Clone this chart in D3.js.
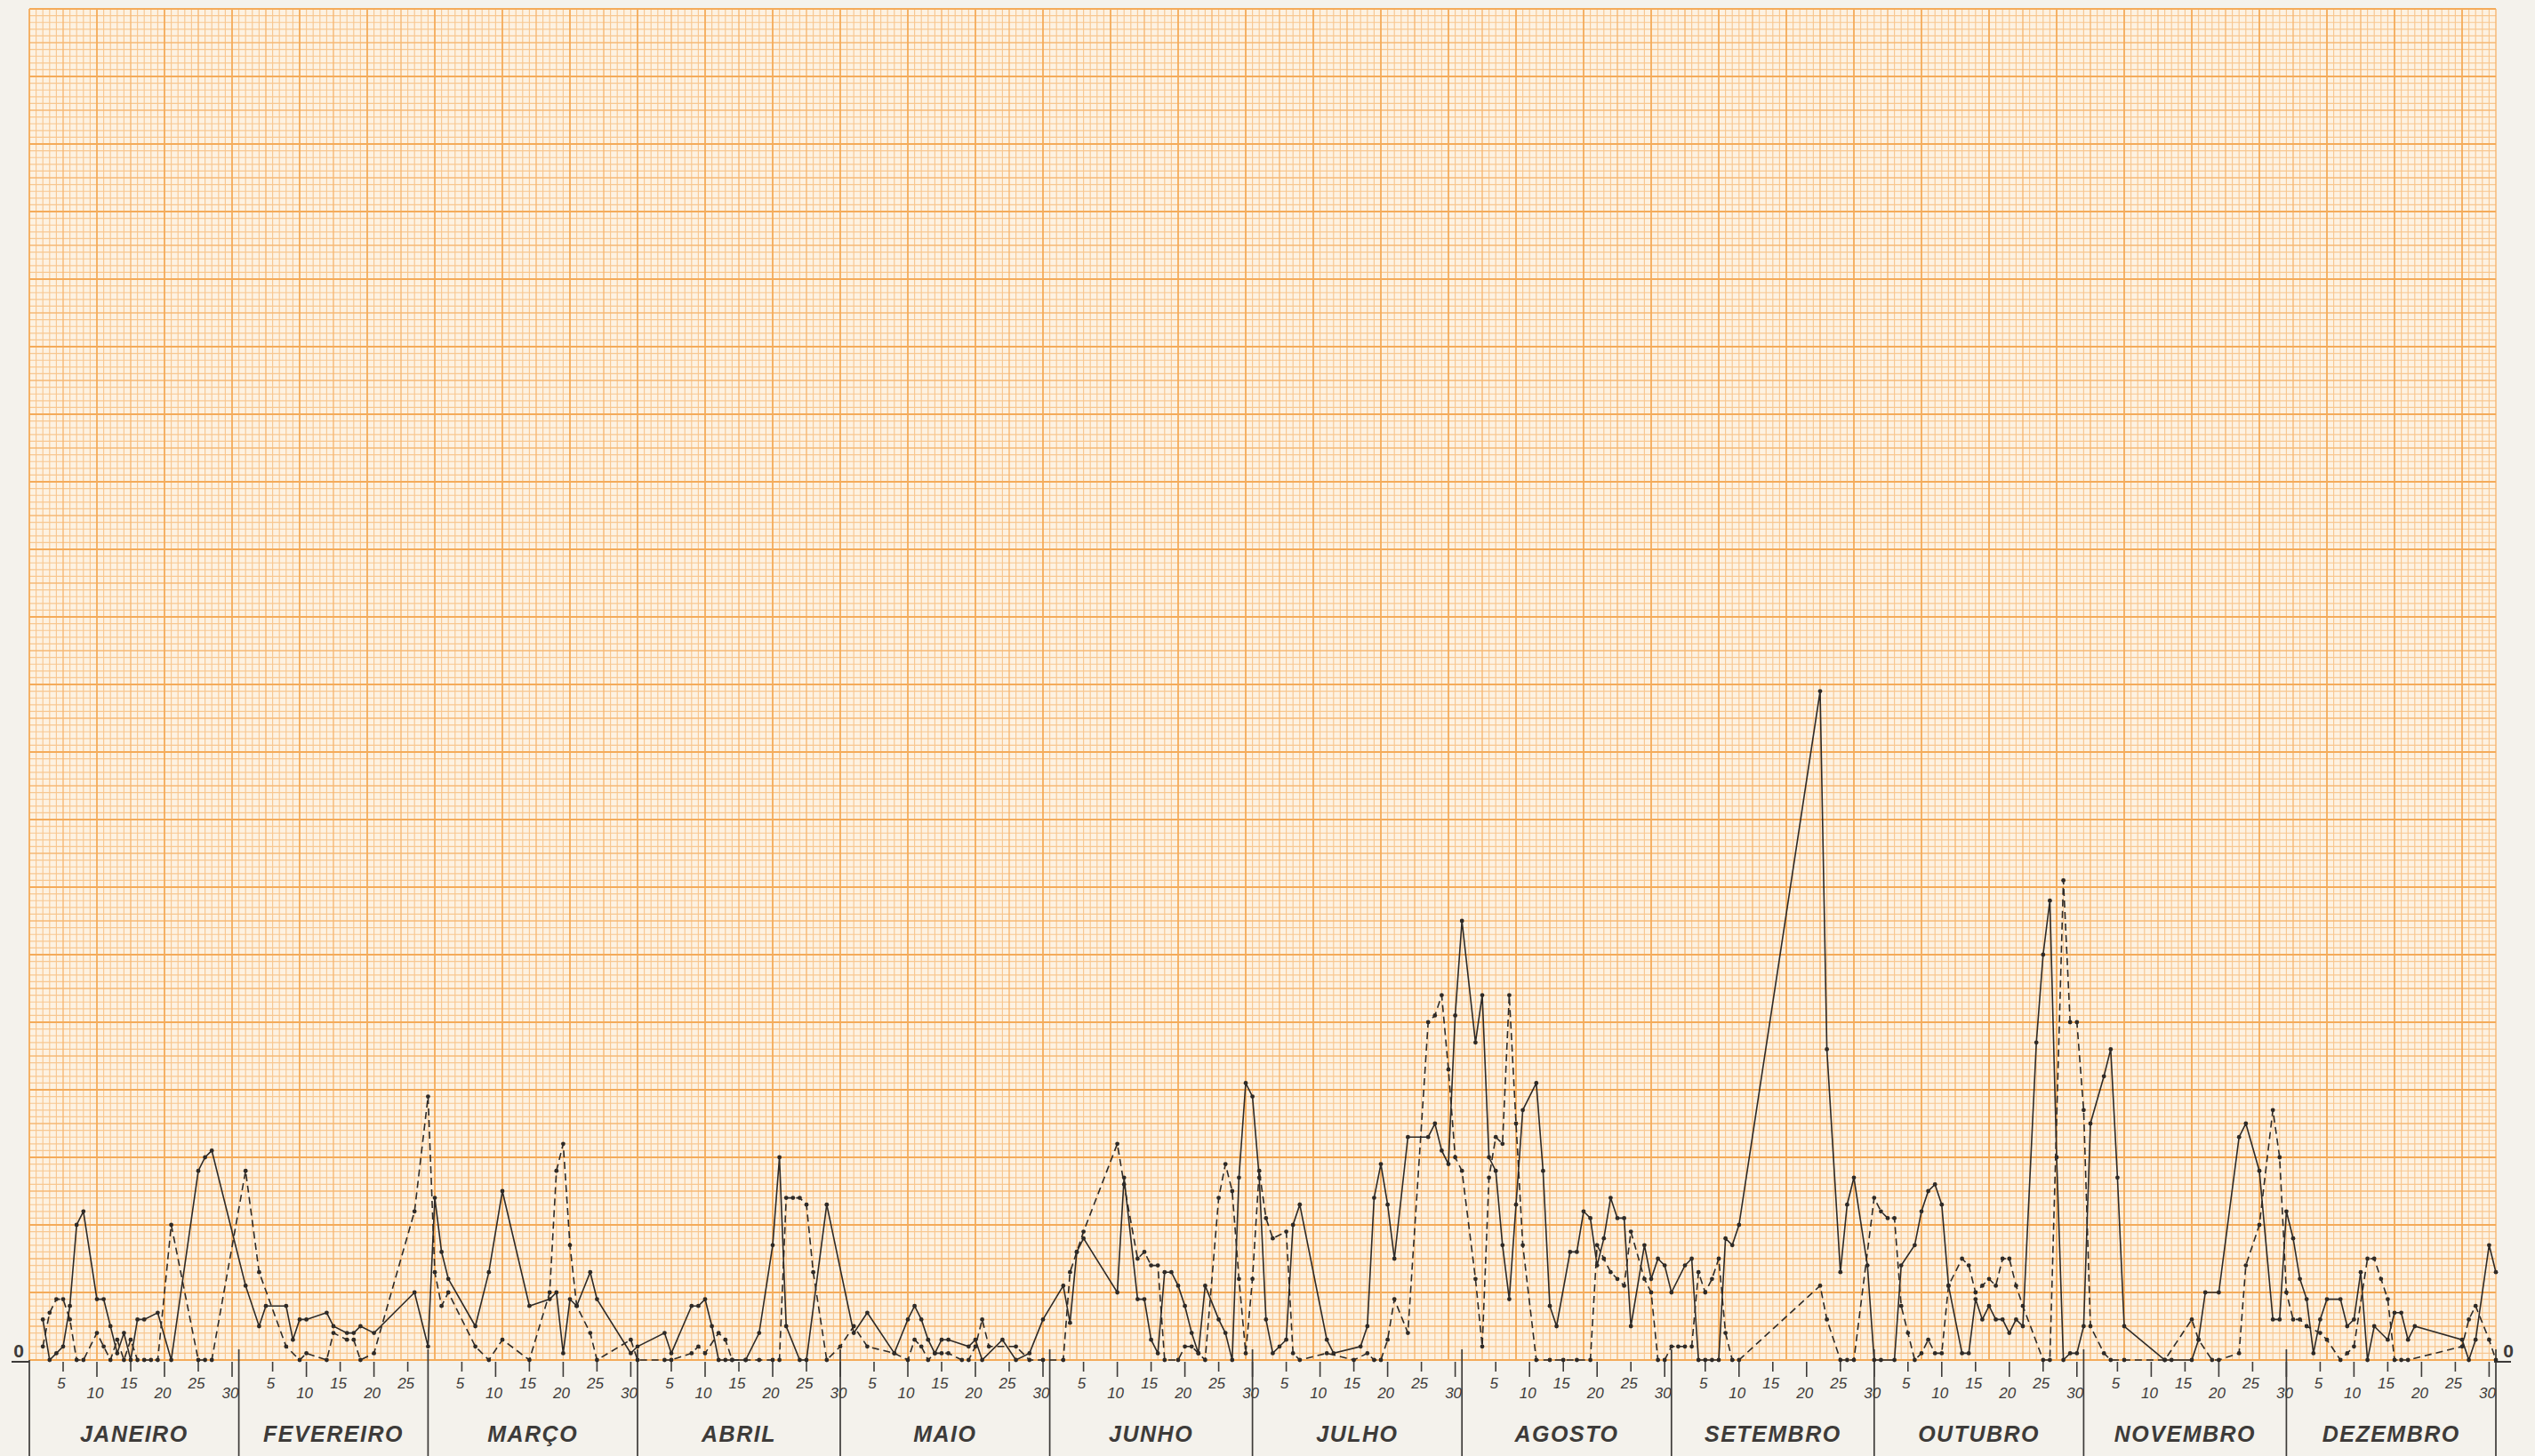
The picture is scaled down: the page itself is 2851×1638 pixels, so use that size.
<!DOCTYPE html>
<html><head><meta charset="utf-8">
<script src="https://cdn.jsdelivr.net/npm/d3@7"></script>
<style>
html,body{margin:0;padding:0;background:#f4f2ec;}
svg{display:block;}
text{font-family:"Liberation Sans","DejaVu Sans",sans-serif;}
</style></head><body>
<svg id="c" width="2851" height="1638"></svg>
<script>
// ---------- DATA ----------
const months = ["JANEIRO","FEVEREIRO","MARÇO","ABRIL","MAIO","JUNHO","JULHO","AGOSTO","SETEMBRO","OUTUBRO","NOVEMBRO","DEZEMBRO"];
const monthDays = [31,28,31,30,31,30,31,31,30,31,30,31];
const dayTicks = [5,10,15,20,25,30];
const yTickLabels = ["0"];

// [day of year, value in grid units] — solid series
const solidSeries = [
  [2,6],[3,0],[4,1],[5,2],[6,8],[7,20],[8,22],[10,9],[11,9],[12,5],[13,1],[14,4],[15,0],[16,6],[17,6],[19,7],[21,0],[25,28],[26,30],[27,31],
  [32,11],[34,5],[35,8],[38,8],[39,3],[40,6],[41,6],[44,7],[45,5],[47,4],[48,4],[49,5],[51,4],[57,10],[59,2],
  [60,24],[61,16],[62,12],[66,5],[68,13],[70,25],[74,8],[77,9],[78,10],[79,1],[80,9],[81,8],[83,13],[84,9],[89,1],[90,2],
  [94,4],[95,1],[98,8],[99,8],[100,9],[101,5],[102,0],[103,0],[104,0],[106,0],[108,4],[110,17],[111,30],[112,5],[114,0],[115,0],[118,23],
  [122,4],[124,7],[128,1],[130,6],[131,8],[132,6],[133,3],[134,1],[135,3],[136,3],[139,2],[140,3],[141,0],[144,3],[146,0],[148,1],[150,6],
  [153,11],[154,5.5],[155,16],[156,18],[161,10],[162,27],[164,9],[165,9],[166,3],[167,1],[168,13],[169,13],[170,11],[171,8],[172,4],[173,1],[174,11],[176,6],[177,4],[178,0],[179,27],[180,41],[181,39],
  [182,27],[183,6],[184,1],[185,2],[186,3],[187,20],[188,23],[192,3],[193,1],[197,2],[198,5],[199,24],[200,29],[201,23],[202,15],[204,33],[207,33],[208,35],[209,31],[210,29],[211,51],[212,65],
  [214,47],[215,54],[216,30],[217,28],[218,17],[219,9],[220,23],[221,37],[223,41],[224,28],[225,8],[226,5],[228,16],[229,16],[230,22],[231,21],[232,14],[233,18],[234,24],[235,21],[236,21],[237,5],[239,17],[240,12],[241,15],[242,14],[243,10],
  [245,14],[246,15],[247,0],[248,0],[249,0],[250,0],[251,18],[252,17],[253,20],[265,99],[266,46],[268,13],[269,23],[270,27],[272,14],[273,0],
  [274,0],[276,0],[277,14],[279,17],[280,22],[281,25],[282,26],[283,23],[284,11],[286,1],[287,1],[288,9],[289,6],[290,8],[291,6],[292,6],[293,4],[294,6],[295,5],[297,47],[298,60],[299,68],[300,30],[301,0],[302,1],[303,1],[304,5],
  [305,35],[307,42],[308,46],[309,27],[310,5],[316,0],[317,0],[320,0],[321,3],[322,10],[324,10],[327,33],[328,35],[330,28],[332,6],[333,6],[334,22],
  [335,18],[336,12],[337,9],[338,1],[339,6],[340,9],[342,9],[343,5],[344,6],[345,13],[346,0],[347,5],[349,3],[350,7],[351,7],[352,3],[353,5],[360,3],[361,0],[362,3],[364,17],[365,13]
];

// [day of year, value in grid units] — dashed series
const dashedSeries = [
  [2,2],[3,7],[4,9],[5,9],[6,6],[7,0],[8,0],[10,4],[11,2],[12,0],[13,3],[14,0],[15,3],[16,0],[17,0],[18,0],[19,0],[21,20],[25,0],[26,0],[27,0],
  [32,28],[34,13],[38,2],[40,0],[41,1],[44,0],[45,4],[47,3],[48,3],[49,0],[51,1],[57,22],[59,39],
  [60,13],[61,8],[62,10],[66,2],[68,0],[70,3],[74,0],[77,10],[78,28],[79,32],[80,17],[81,8],[83,4],[84,0],[89,3],[90,0],
  [94,0],[95,0],[98,1],[99,2],[100,1],[102,4],[103,3],[104,0],[106,0],[108,0],[110,0],[111,0],[112,24],[113,24],[114,24],[115,23],[116,13],[118,0],[120,2],
  [122,5],[124,2],[128,1],[130,0],[131,3],[132,2],[133,0],[134,1],[135,1],[136,1],[138,0],[139,0],[140,2],[141,6],[142,2],[146,2],[148,0],[150,0],
  [153,0],[154,13],[155,16],[156,19],[161,32],[162,26],[164,15],[165,16],[166,14],[167,14],[168,0],[170,0],[171,2],[172,2],[173,1],[174,0],[176,24],[177,29],[178,25],[179,12],[180,1],[181,12],
  [182,28],[183,21],[184,18],[186,19],[187,1],[188,0],[192,1],[196,0],[198,1],[199,0],[200,0],[201,3],[202,9],[204,4],[207,50],[208,51],[209,54],[210,43],[211,30],[212,28],
  [214,12],[215,2],[216,27],[217,33],[218,32],[219,54],[220,35],[221,17],[223,0],[225,0],[227,0],[229,0],[231,0],[232,17],[233,15],[234,13],[235,12],[236,11],[237,19],[239,12],[240,10],[241,0],[242,0],[243,2],
  [244,2],[245,2],[246,2],[247,13],[248,10],[249,12],[250,15],[251,4],[252,0],[253,0],[265,11],[266,6],[268,0],[269,0],[270,0],[273,24],
  [274,22],[275,21],[276,21],[277,8],[278,4],[279,0],[280,1],[281,3],[282,1],[283,1],[284,11],[286,15],[287,14],[288,10],[289,11],[290,12],[291,11],[292,15],[293,15],[294,11],[295,8],[298,0],[299,0],[301,71],[302,50],[303,50],[304,37],
  [305,5],[307,1],[308,0],[310,0],[316,0],[320,6],[321,3],[323,0],[324,0],[327,1],[328,14],[330,20],[332,37],[333,30],[334,10],
  [335,6],[336,6],[337,5],[339,4],[340,3],[342,0],[343,1],[344,2],[346,15],[347,15],[348,12],[349,9],[350,0],[351,0],[352,0],[360,2],[361,6],[362,8],[364,3],[365,0]
];

// ---------- CHART ----------
const W = 2851, H = 1638;
const svg = d3.select("#c");
svg.append("rect").attr("width", W).attr("height", H).attr("fill", "#f4f2ec");

const x = d3.scaleLinear().domain([0, 365]).range([33, 2807]);
const y = d3.scaleLinear().domain([0, 200]).range([1530, 10]);

// graph paper
svg.append("rect")
  .attr("x", x(0)).attr("y", y(200))
  .attr("width", x(365) - x(0)).attr("height", y(0) - y(200))
  .attr("fill", "#fdf2e2");

const grid = svg.append("g");
const levels = [
  {test: i => i % 5 !== 0, color: "#f8c790", w: 1.15},
  {test: i => i % 5 === 0 && i % 10 !== 0, color: "#f6b874", w: 1.4},
  {test: i => i % 10 === 0, color: "#f4ab5a", w: 1.8}
];
levels.forEach(l => {
  grid.append("g").selectAll("line").data(d3.range(0, 366).filter(l.test)).join("line")
    .attr("x1", d => x(d)).attr("x2", d => x(d))
    .attr("y1", y(200)).attr("y2", y(0))
    .attr("stroke", l.color).attr("stroke-width", l.w);
  grid.append("g").selectAll("line").data(d3.range(0, 201).filter(l.test)).join("line")
    .attr("y1", d => y(d)).attr("y2", d => y(d))
    .attr("x1", x(0)).attr("x2", x(365))
    .attr("stroke", l.color).attr("stroke-width", l.w);
});

// ---------- AXIS ----------
const cum = [0];
monthDays.forEach(d => cum.push(cum[cum.length - 1] + d));
const axis = svg.append("g").attr("fill", "#3d3b39").attr("stroke", "#3d3b39");

const tickData = [];
monthDays.forEach((nd, m) => {
  dayTicks.filter(k => k <= nd).forEach(k => tickData.push({t: cum[m] + k, k}));
});
axis.selectAll("line.tick").data(tickData).join("line").attr("class", "tick")
  .attr("x1", d => x(d.t)).attr("x2", d => x(d.t))
  .attr("y1", y(0) + 2)
  .attr("y2", d => y(0) + ((d.k / 5) % 2 === 1 ? 13 : 19))
  .attr("stroke-width", 1.6);
axis.selectAll("text.tick").data(tickData).join("text").attr("class", "tick")
  .attr("x", d => x(d.t) - 2)
  .attr("y", d => (d.k / 5) % 2 === 1 ? 1562 : 1573)
  .attr("text-anchor", "middle").attr("stroke", "none")
  .attr("font-size", 17).attr("font-style", "italic")
  .text(d => d.k);

// month dividers
axis.selectAll("line.div").data(cum).join("line").attr("class", "div")
  .attr("x1", d => x(d)).attr("x2", d => x(d))
  .attr("y1", (d, i) => i === 0 ? y(0) : y(0) - 12)
  .attr("y2", H)
  .attr("stroke-width", 1.7);

// month names
axis.selectAll("text.month").data(months).join("text").attr("class", "month")
  .attr("x", (d, i) => (x(cum[i]) + x(cum[i + 1])) / 2)
  .attr("y", 1622)
  .attr("text-anchor", "middle").attr("stroke", "none")
  .attr("font-size", 25).attr("font-style", "italic").attr("font-weight", "bold")
  .attr("letter-spacing", 1.5)
  .text(d => d);

// zero labels with underline
[{tx: 21, u1: 13, u2: 33}, {tx: 2821, u1: 2805, u2: 2824}].forEach(o => {
  axis.append("text").attr("x", o.tx).attr("y", y(0) - 3)
    .attr("text-anchor", "middle").attr("stroke", "none")
    .attr("font-size", 21).attr("font-weight", "bold")
    .text(yTickLabels[0]);
  axis.append("line").attr("x1", o.u1).attr("x2", o.u2)
    .attr("y1", y(0) + 2).attr("y2", y(0) + 2).attr("stroke-width", 2);
});

// ---------- SERIES ----------
const line = d3.line().x(d => x(d[0])).y(d => y(d[1]));
const ink = "#2e2a27";
svg.append("path").datum(dashedSeries).attr("d", line)
  .attr("fill", "none").attr("stroke", ink).attr("stroke-width", 1.6)
  .attr("stroke-dasharray", "8,5");
svg.append("path").datum(solidSeries).attr("d", line)
  .attr("fill", "none").attr("stroke", ink).attr("stroke-width", 1.6);
[dashedSeries, solidSeries].forEach(s => {
  svg.append("g").selectAll("circle").data(s).join("circle")
    .attr("cx", d => x(d[0])).attr("cy", d => y(d[1])).attr("r", 2.4)
    .attr("fill", ink);
});
</script>
</body></html>
